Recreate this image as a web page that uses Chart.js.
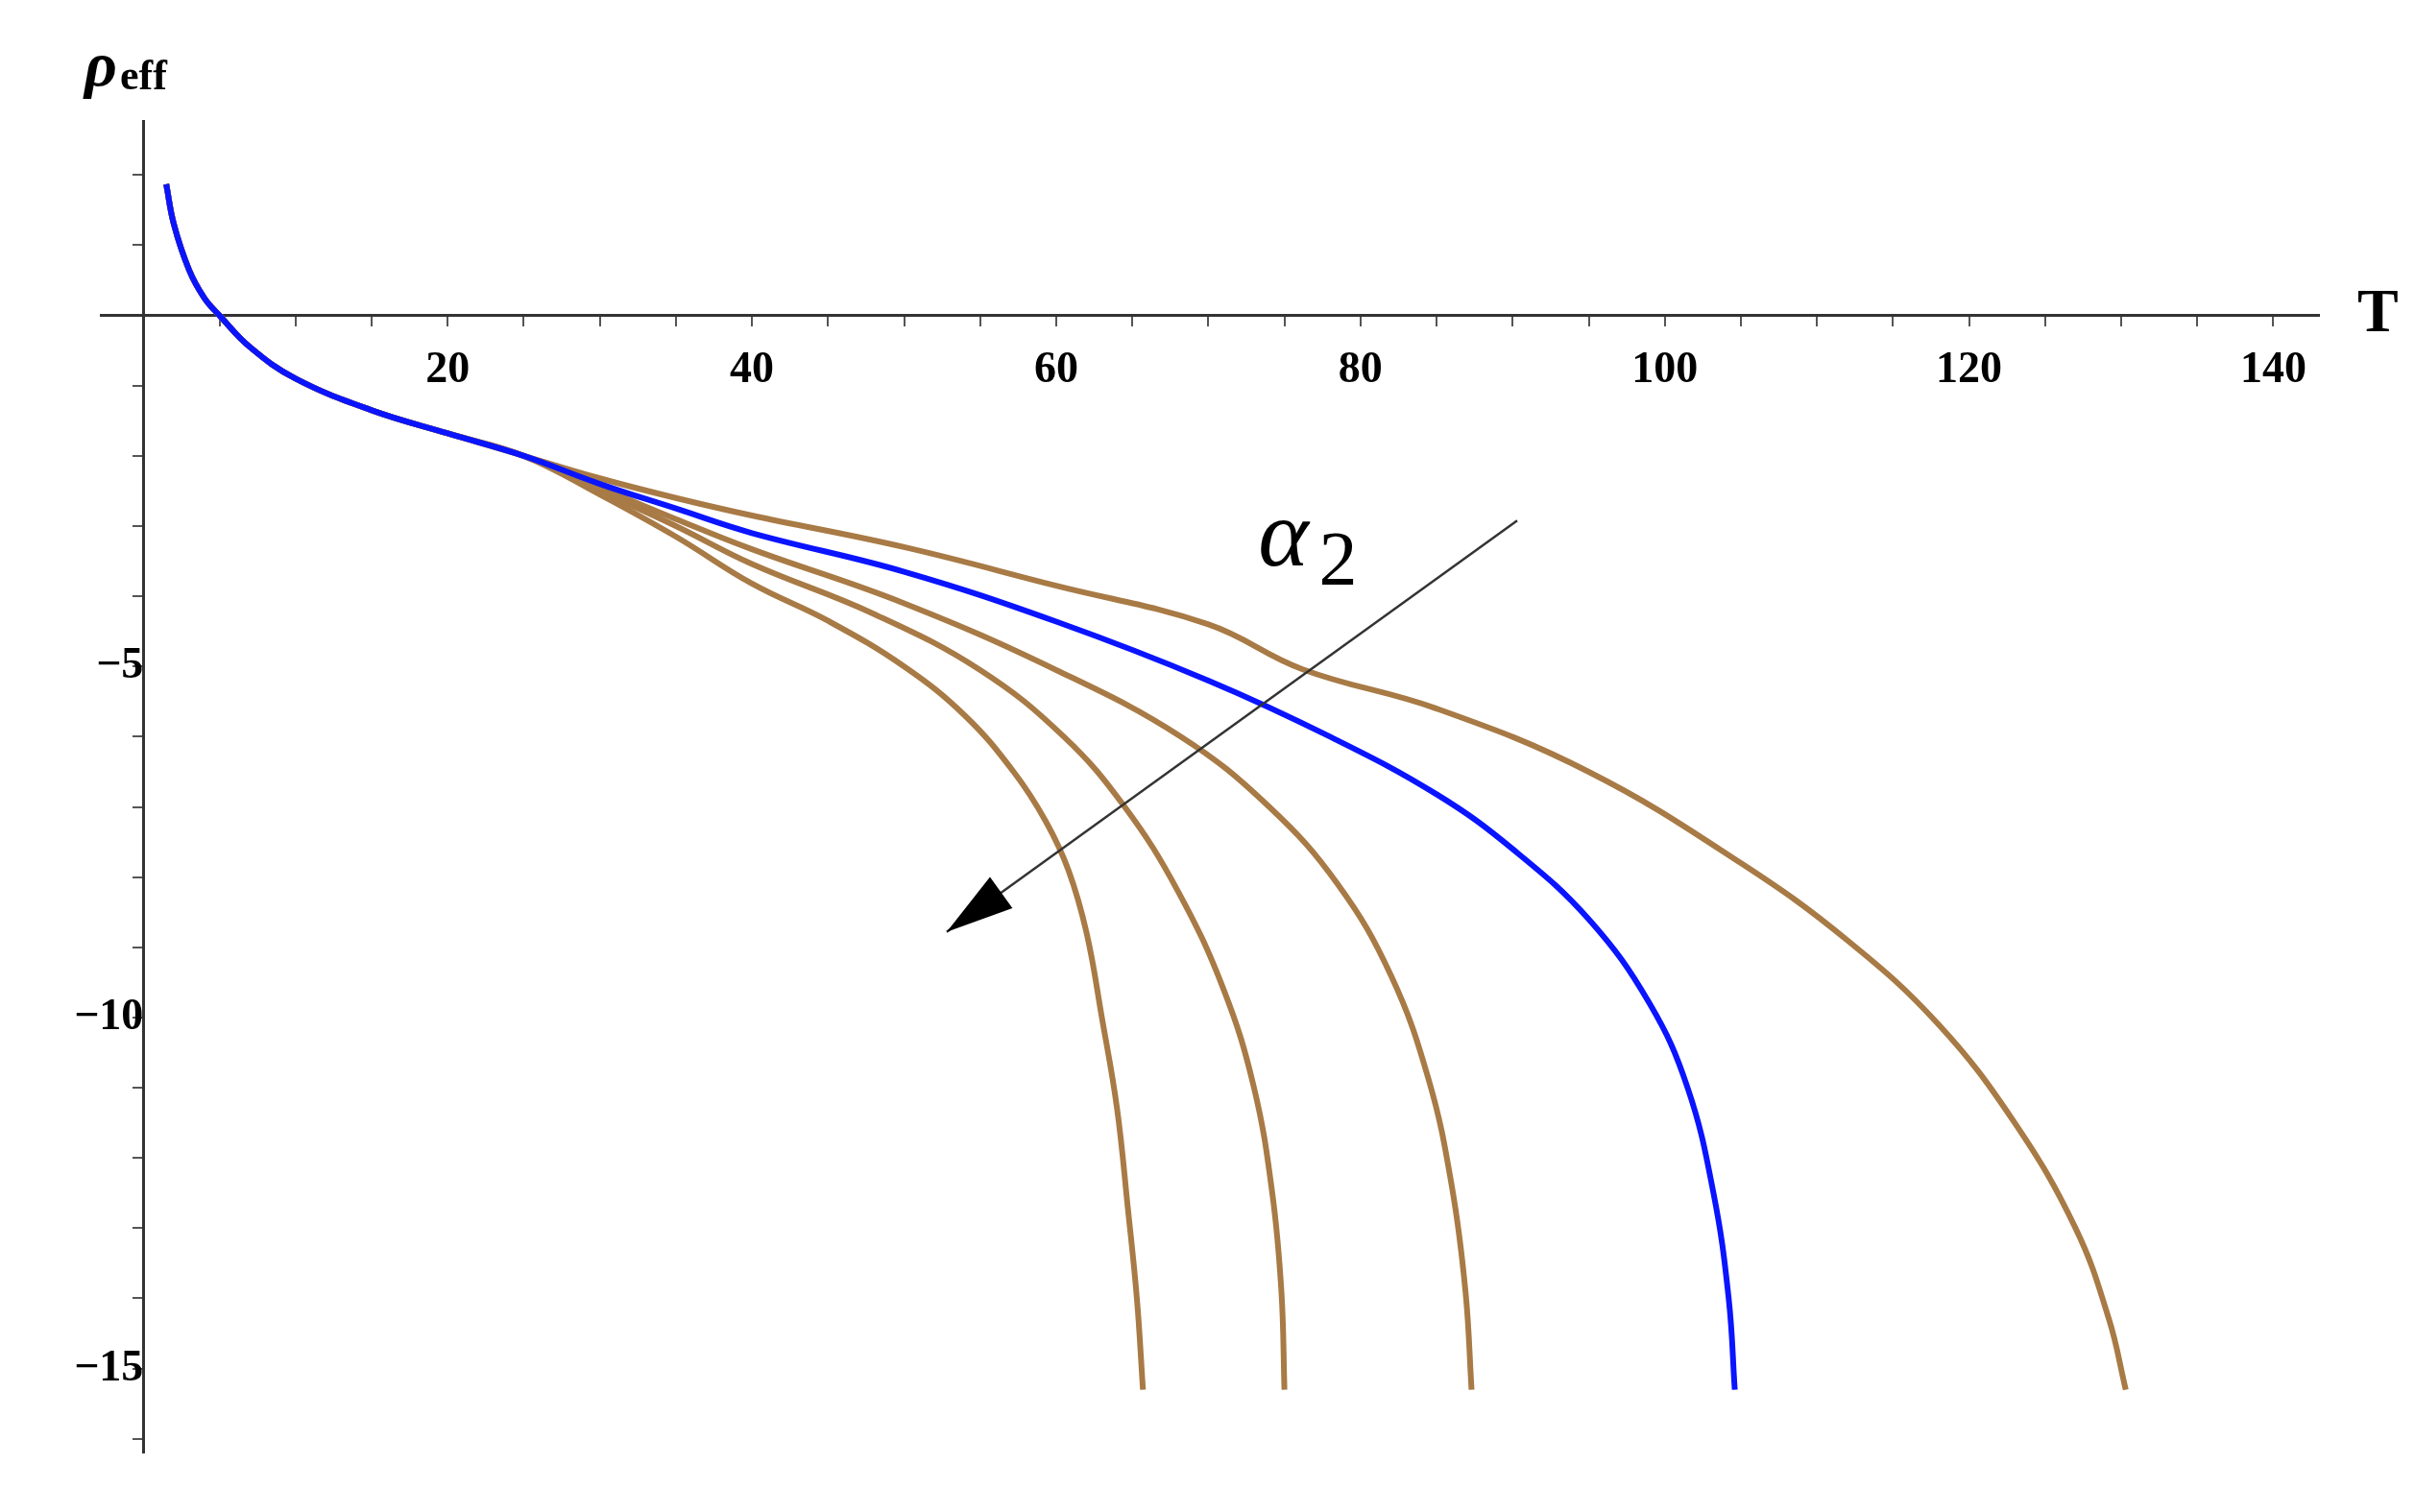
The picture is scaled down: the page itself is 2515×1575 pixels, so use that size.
<!DOCTYPE html>
<html><head><meta charset="utf-8">
<script src="https://cdn.jsdelivr.net/npm/chart.js@4"></script>
<style>html,body{margin:0;padding:0;background:#fff}#w{width:2515px;height:1575px;position:relative}</style>
</head><body><div id="w"><canvas id="c"></canvas></div>
<script>
const xTicks=[0,5,10,15,20,25,30,35,40,45,50,55,60,65,70,75,80,85,90,95,100,105,110,115,120,125,130,135,140];
const xLabeled=[20,40,60,80,100,120,140];
const yTicks=[-16,-15,-14,-13,-12,-11,-10,-9,-8,-7,-6,-5,-4,-3,-2,-1,0,1,2];
const yLabeled=[-15,-10,-5];
const commonT=[1.5,2,3,4,5,7,10,15,20,25];
const commonY=[1.87,1.3,0.65,0.25,0,-0.45,-0.9,-1.35,-1.68,-2.0];
const c1T=[30,35,40,45,50,54,57.2,59.3,60.8,62,63,64,64.7,65.3,65.7];
const c1Y=[-2.55,-3.15,-3.82,-4.35,-5.0,-5.7,-6.5,-7.2,-7.9,-8.8,-10.0,-11.3,-12.7,-14.0,-15.3];
const c2T=[30,35,40,48,55,60.5,64.5,68,71,73,74.2,74.8,75];
const c2Y=[-2.5,-3.0,-3.54,-4.25,-5.05,-6.0,-7.0,-8.2,-9.6,-11.0,-12.5,-13.9,-15.3];
const c3T=[30,35,40,50,60,68.2,74,78.5,82,84.5,86,86.9,87.3];
const c3Y=[-2.45,-2.9,-3.33,-4.1,-5.05,-6.0,-7.0,-8.1,-9.4,-10.9,-12.4,-13.9,-15.3];
const blueT=[30,35,40,50,60,70,78,85,90,95,99,101.5,103.2,104.2,104.6];
const blueY=[-2.4,-2.75,-3.1,-3.65,-4.36,-5.2,-6.0,-6.82,-7.6,-8.6,-9.8,-11.0,-12.5,-14.0,-15.3];
const c5T=[30,35,40,50,60,70,76.2,85,95,105,112,118,123,127,129.2,130.3];
const c5Y=[-2.32,-2.6,-2.85,-3.3,-3.85,-4.4,-5.04,-5.6,-6.5,-7.8,-8.9,-10.1,-11.5,-13.0,-14.3,-15.3];
const arrowFrom={x:90.3,y:-2.92}, arrowTo={x:52.8,y:-8.78};
const alphaPos={x:76.5,y:-3.2};
const brown='#a87a45', blue='#0a14ff';
function mk(T,Y,col){const t=commonT.concat(T),y=commonY.concat(Y);
 return {data:t.map((v,i)=>({x:v,y:y[i]})),borderColor:col,borderWidth:6,pointRadius:0,showLine:true,tension:0.4,fill:false};}
const annot={id:'annot',afterDraw(ch){const g=ch.ctx,xs=ch.scales.x,ys=ch.scales.y;
 const x1=xs.getPixelForValue(arrowFrom.x),y1=ys.getPixelForValue(arrowFrom.y),x2=xs.getPixelForValue(arrowTo.x),y2=ys.getPixelForValue(arrowTo.y);
 g.save();g.strokeStyle='#333';g.lineWidth=2.5;g.beginPath();g.moveTo(x1,y1);g.lineTo(x2,y2);g.stroke();
 const a=Math.atan2(y2-y1,x2-x1),L=70,W=20;g.fillStyle='#000';g.beginPath();g.moveTo(x2,y2);
 g.lineTo(x2-L*Math.cos(a)+W*Math.sin(a),y2-L*Math.sin(a)-W*Math.cos(a));
 g.lineTo(x2-L*Math.cos(a)-W*Math.sin(a),y2-L*Math.sin(a)+W*Math.cos(a));g.closePath();g.fill();
 const ax=xs.getPixelForValue(alphaPos.x),ay=ys.getPixelForValue(alphaPos.y);
 g.fillStyle='#000';g.font='italic 100px "Liberation Serif"';g.textAlign='center';g.textBaseline='middle';g.fillText('α',ax-25,ay);
 g.font='80px "Liberation Serif"';g.fillText('2',ax+32,ay+25);
 g.font='bold italic 66px "Liberation Serif"';g.textAlign='left';g.fillText('ρ',88,72);
 g.font='bold 44px "Liberation Serif"';g.fillText('eff',125,82);
 g.font='bold 64px "Liberation Serif"';g.fillText('T',2455,ys.getPixelForValue(0));
 g.restore();}};
new Chart(document.getElementById('c'),{type:'scatter',
 data:{datasets:[mk(blueT,blueY,blue),mk(c1T,c1Y,brown),mk(c2T,c2Y,brown),mk(c3T,c3Y,brown),mk(c5T,c5Y,brown)]},
 options:{responsive:true,maintainAspectRatio:false,animation:false,plugins:{legend:{display:false},tooltip:{enabled:false}},
  layout:{padding:{left:105,right:100,top:126,bottom:24}},
  scales:{
   x:{type:'linear',min:-2.8,max:143,position:{y:0},afterBuildTicks:s=>{s.ticks=xTicks.map(v=>({value:v}));},
    border:{color:'#333',width:3},grid:{drawOnChartArea:false,color:'#555',tickLength:10,lineWidth:2},
    ticks:{autoSkip:false,maxRotation:0,padding:20,color:'#000',font:{family:'Liberation Serif',weight:'bold',size:46},callback:v=>xLabeled.includes(v)?String(v):''}},
   y:{type:'linear',min:-16.2,max:2.77,position:{x:0},afterBuildTicks:s=>{s.ticks=yTicks.map(v=>({value:v}));},
    border:{color:'#333',width:3},grid:{drawOnChartArea:false,color:'#555',tickLength:10,lineWidth:2},
    ticks:{autoSkip:false,padding:34,color:'#000',font:{family:'Liberation Serif',weight:'bold',size:46},callback:v=>yLabeled.includes(v)?'−'+Math.abs(v):''}}
  }},plugins:[annot]});
</script></body></html>
